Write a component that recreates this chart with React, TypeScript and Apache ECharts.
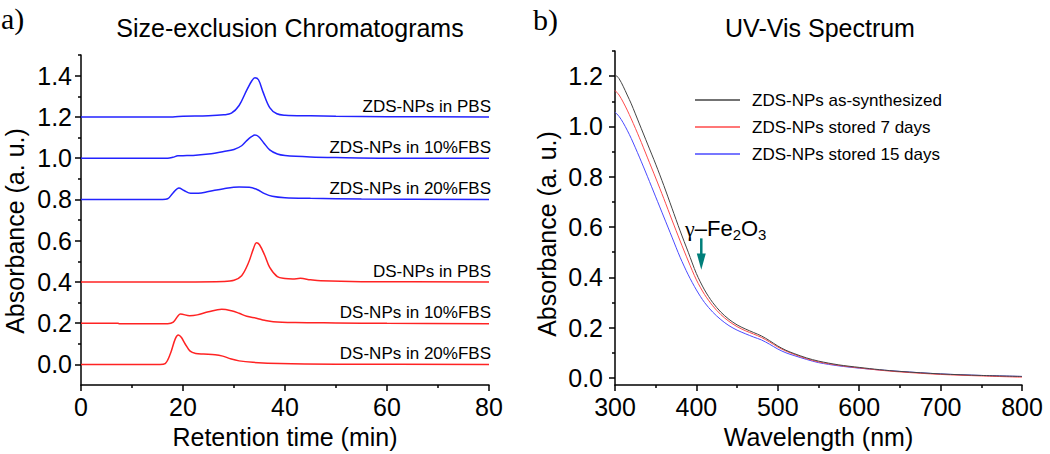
import React, { useEffect, useRef } from "react";
import * as echarts from "echarts";

// ---------- Panel a) Size-exclusion chromatograms: [retention time (min), absorbance] ----------
const zdsPbs = [[0,1.2],[18,1.2],[20,1.203],[25,1.205],[28,1.21],[29.5,1.218],[31,1.255],[32.5,1.33],[33.5,1.375],[34.1,1.39],[34.8,1.38],[35.7,1.32],[37,1.245],[38.4,1.215],[40,1.208],[45,1.205],[50,1.203],[60,1.201],[80,1.2]];
const zds10Fbs = [[0,1.0],[17,1.0],[18,1.004],[19,1.011],[20,1.012],[22,1.013],[25,1.02],[28,1.032],[30,1.042],[31.5,1.06],[32.5,1.085],[33.5,1.105],[34.1,1.112],[34.8,1.105],[35.8,1.075],[37,1.04],[38.5,1.02],[40,1.013],[45,1.006],[50,1.003],[60,1.0],[80,1.0]];
const zds20Fbs = [[0,0.8],[16,0.8],[17,0.803],[18,0.83],[19.2,0.855],[20.2,0.843],[21.5,0.83],[23,0.83],[25,0.838],[28,0.852],[31,0.86],[33,0.859],[34.5,0.848],[36,0.828],[37.5,0.815],[40,0.808],[45,0.805],[55,0.802],[80,0.8]];
const dsPbs = [[0,0.4],[20,0.4],[28,0.402],[30,0.408],[31.5,0.43],[32.8,0.49],[33.8,0.56],[34.4,0.59],[35,0.58],[36,0.53],[37,0.47],[38.5,0.425],[40,0.416],[41.5,0.414],[43,0.417],[45,0.41],[47,0.405],[55,0.401],[80,0.4]];
const ds10Fbs = [[0,0.2],[7.3,0.2],[7.5,0.197],[17,0.197],[18.1,0.205],[19,0.235],[19.5,0.244],[21.3,0.236],[22.8,0.24],[25,0.255],[27.6,0.267],[29.5,0.26],[31,0.248],[32.5,0.233],[34.4,0.224],[36,0.214],[37.7,0.207],[42,0.203],[50,0.201],[60,0.199],[80,0.197]];
const ds20Fbs = [[0,0],[15.5,0],[16.5,0.004],[17.5,0.05],[18.5,0.125],[19.1,0.143],[19.7,0.13],[20.4,0.1],[21.4,0.064],[22.5,0.053],[24,0.05],[26.3,0.047],[27.8,0.04],[29.2,0.028],[31,0.017],[33.7,0.01],[39,0.004],[50,0.001],[80,0]];

const secNames = ["ZDS-NPs in PBS","ZDS-NPs in 10%FBS","ZDS-NPs in 20%FBS","DS-NPs in PBS","DS-NPs in 10%FBS","DS-NPs in 20%FBS"];
const secData = [zdsPbs, zds10Fbs, zds20Fbs, dsPbs, ds10Fbs, ds20Fbs];
const secBaselines = [1.2, 1.0, 0.8, 0.4, 0.2, 0.0];
const secColors = ["#2323ff","#2323ff","#2323ff","#ff2323","#ff2323","#ff2323"];
const secYLabels = [0, 0.2, 0.4, 0.6, 0.8, 1.0, 1.2, 1.4];
const secYMinor = [0.1, 0.3, 0.5, 0.7, 0.9, 1.1, 1.3, 1.5];

// ---------- Panel b) UV-Vis spectrum ----------
const wavelengths = [300,305,310,315,320,330,340,350,360,370,380,390,400,410,420,430,440,450,460,470,480,490,500,510,520,535,550,575,600,625,650,700,750,800];
const asSynth = [1.207,1.19,1.16,1.125,1.09,1.01,0.93,0.85,0.765,0.675,0.585,0.5,0.415,0.35,0.3,0.262,0.233,0.211,0.195,0.181,0.167,0.148,0.127,0.11,0.097,0.08,0.067,0.052,0.042,0.033,0.026,0.016,0.01,0.006];
const stored7 = [1.143,1.125,1.097,1.065,1.03,0.955,0.875,0.795,0.713,0.628,0.545,0.465,0.39,0.332,0.287,0.252,0.225,0.204,0.188,0.175,0.161,0.143,0.123,0.107,0.094,0.077,0.064,0.05,0.04,0.031,0.024,0.014,0.008,0.003];
const stored15 = [1.057,1.04,1.015,0.985,0.952,0.878,0.8,0.72,0.64,0.56,0.48,0.41,0.35,0.3,0.262,0.232,0.208,0.19,0.176,0.163,0.151,0.134,0.115,0.1,0.089,0.074,0.061,0.048,0.039,0.032,0.026,0.016,0.01,0.006];
const uvNames = ["ZDS-NPs as-synthesized","ZDS-NPs stored 7 days","ZDS-NPs stored 15 days"];
const uvSeries = [asSynth, stored7, stored15];
const uvColors = ["#444444","#ff4a4a","#4a4aff"];
const uvYLabels = [0, 0.2, 0.4, 0.6, 0.8, 1.0, 1.2];
const uvYMinor = [0.1, 0.3, 0.5, 0.7, 0.9, 1.1, 1.3];

// annotation anchor (data coords of panel b)
const peakNm = 406;

const FF = "'Liberation Sans', Arial, Helvetica, sans-serif";
const SERIF = "'Liberation Serif', 'Times New Roman', serif";

const axLine = { show: true, onZero: false, lineStyle: { color: "#000", width: 1.5 } };
const tickStyle = { color: "#000", width: 1.5 };

function xAxisCfg(grid: number, min: number, max: number, interval: number, name: string) {
  return {
    type: "value", gridIndex: grid, min, max, interval,
    axisLine: axLine,
    axisTick: { show: true, length: 6, lineStyle: tickStyle },
    minorTick: { show: true, splitNumber: 2, length: 3, lineStyle: tickStyle },
    axisLabel: { fontSize: 25, color: "#000", fontFamily: FF, margin: 9 },
    splitLine: { show: false }, minorSplitLine: { show: false },
    name, nameLocation: "middle", nameGap: 39,
    nameTextStyle: { fontSize: 25, color: "#000", fontFamily: FF },
  };
}
function yAxisMajor(grid: number, min: number, max: number, labels: number[], margin: number) {
  return {
    type: "value", gridIndex: grid, min, max, position: "left",
    axisLine: axLine,
    axisTick: { show: true, length: 6, lineStyle: tickStyle, customValues: labels },
    axisLabel: { customValues: labels, formatter: (v: number) => v.toFixed(1), fontSize: 25, color: "#000", fontFamily: FF, margin },
    splitLine: { show: false },
  };
}
function yAxisMinor(grid: number, min: number, max: number, ticks: number[]) {
  return {
    type: "value", gridIndex: grid, min, max, position: "left", offset: 0,
    axisLine: { show: false, onZero: false },
    axisTick: { show: true, length: 3, lineStyle: tickStyle, customValues: ticks },
    axisLabel: { show: false },
    splitLine: { show: false },
  };
}

export default function App() {
  const ref = useRef<HTMLDivElement>(null);
  useEffect(() => {
    document.body.style.margin = "0";
    const chart = echarts.init(ref.current!, null, { renderer: "svg" });
    const series: any[] = [];
    secData.forEach((d, i) => {
      series.push({
        type: "line", name: secNames[i], xAxisIndex: 0, yAxisIndex: 0, data: d,
        smooth: 0.35, symbol: "none", showSymbol: false,
        lineStyle: { color: secColors[i], width: 1.5 }, itemStyle: { color: secColors[i] },
      });
    });
    uvSeries.forEach((vals, i) => {
      series.push({
        type: "line", name: uvNames[i], xAxisIndex: 1, yAxisIndex: 2,
        data: wavelengths.map((w, k) => [w, vals[k]]),
        smooth: 0.3, symbol: "none", showSymbol: false, z: 3 - i,
        lineStyle: { color: uvColors[i], width: 1 }, itemStyle: { color: uvColors[i] },
      });
    });

    chart.setOption({
      animation: false,
      backgroundColor: "#fff",
      grid: [
        { left: 81, top: 55, width: 408, height: 330 },
        { left: 615, top: 51, width: 407, height: 334 },
      ],
      xAxis: [
        xAxisCfg(0, 0, 80, 20, "Retention time (min)"),
        xAxisCfg(1, 300, 800, 100, "Wavelength (nm)"),
      ],
      yAxis: [
        yAxisMajor(0, -0.1, 1.5, secYLabels, 9),
        yAxisMinor(0, -0.1, 1.5, secYMinor),
        yAxisMajor(1, -0.028, 1.3, uvYLabels, 12),
        yAxisMinor(1, -0.028, 1.3, uvYMinor),
      ],
      legend: {
        data: uvNames, left: 690, top: 86, orient: "vertical",
        icon: "rect", itemWidth: 45, itemHeight: 1.5, itemGap: 9,
        textStyle: { fontSize: 17, lineHeight: 18, fontFamily: FF, color: "#000", padding: [0, 0, 0, 7] },
      },
      series,
    });

    const graphics: any[] = [];
    secNames.forEach((n, i) => {
      const p = chart.convertToPixel({ xAxisIndex: 0, yAxisIndex: 0 }, [80, secBaselines[i]]) as number[];
      graphics.push({
        type: "text", x: p[0] + 2, y: p[1] - 2,
        style: { text: n, fontSize: 17, fontFamily: FF, fill: "#000", align: "right", verticalAlign: "bottom" },
      });
    });
    const cv = (x: number, y: number) => chart.convertToPixel({ xAxisIndex: 1, yAxisIndex: 2 }, [x, y]) as number[];
    const tTop = cv(peakNm, 0.555);
    const tHead = cv(peakNm, 0.495);
    const tTip = cv(peakNm, 0.43);
    const lab = cv(386, 0.595);
    const teal = "#007f7a";
    graphics.push(
      { type: "line", shape: { x1: tTop[0], y1: tTop[1], x2: tHead[0], y2: tHead[1] + 2 }, style: { stroke: teal, lineWidth: 2.5 } },
      { type: "polygon", shape: { points: [[tHead[0] - 4.5, tHead[1]], [tHead[0] + 4.5, tHead[1]], [tTip[0], tTip[1]]] }, style: { fill: teal } },
      {
        type: "text", x: lab[0], y: lab[1],
        style: {
          text: "{g|γ}{a|–Fe}{s|2}{a|O}{s|3}", verticalAlign: "middle", align: "left",
          rich: {
            g: { fontSize: 22, fontFamily: SERIF, fill: "#000" },
            a: { fontSize: 22, fontFamily: FF, fill: "#000" },
            s: { fontSize: 15, fontFamily: FF, fill: "#000", padding: [12, 0, 0, 0] },
          },
        },
      },
      { type: "text", x: 290, y: 28, style: { text: "Size-exclusion Chromatograms", fontSize: 25, fontFamily: FF, fill: "#000", align: "center", verticalAlign: "middle" } },
      { type: "text", x: 820, y: 28, style: { text: "UV-Vis Spectrum", fontSize: 25, fontFamily: FF, fill: "#000", align: "center", verticalAlign: "middle" } },
      { type: "text", x: 1, y: 18, style: { text: "a)", fontSize: 30, fontFamily: SERIF, fill: "#000", align: "left", verticalAlign: "middle" } },
      { type: "text", x: 533, y: 19, style: { text: "b)", fontSize: 30, fontFamily: SERIF, fill: "#000", align: "left", verticalAlign: "middle" } },
      { type: "text", x: 15, y: 231, rotation: Math.PI / 2, style: { text: "Absorbance (a. u.)", fontSize: 25, fontFamily: FF, fill: "#000", align: "center", verticalAlign: "middle" } },
      { type: "text", x: 547, y: 234, rotation: Math.PI / 2, style: { text: "Absorbance (a. u.)", fontSize: 25, fontFamily: FF, fill: "#000", align: "center", verticalAlign: "middle" } },
    );
    chart.setOption({ graphic: graphics });
    return () => chart.dispose();
  }, []);
  return <div ref={ref} style={{ width: 1050, height: 454 }} />;
}
